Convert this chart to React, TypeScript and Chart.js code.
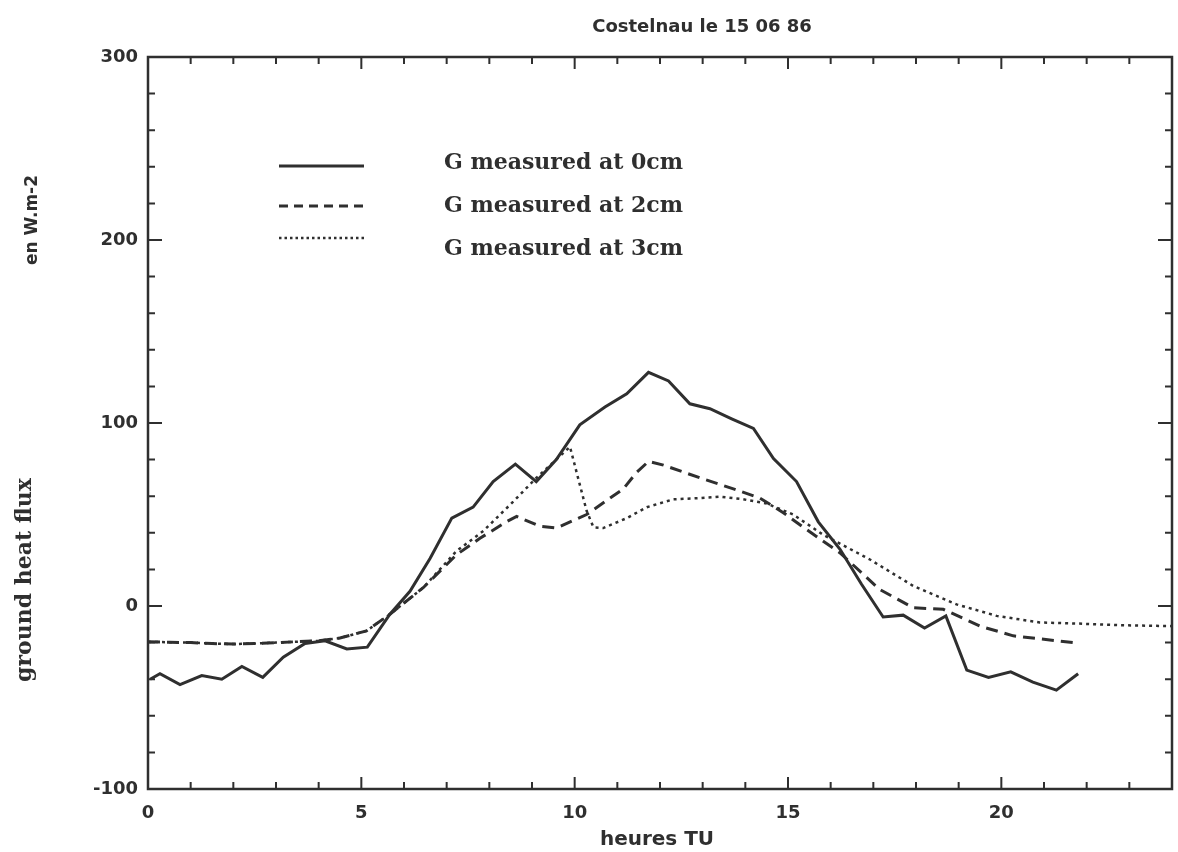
import React, { useEffect, useRef } from 'react';
import { Chart, registerables } from 'chart.js';

Chart.register(...registerables);

// ---- data (hours TU, W.m-2) ----
const hours0 = [0.05, 0.28, 0.75, 1.26, 1.73, 2.2, 2.69, 3.17, 3.68, 4.15, 4.66, 5.14, 5.67, 6.14, 6.61, 7.12, 7.62, 8.09, 8.61, 9.1, 9.57, 10.12, 10.71, 11.22, 11.73, 12.2, 12.7, 13.17, 13.68, 14.19, 14.66, 15.2, 15.71, 16.22, 16.72, 17.23, 17.7, 18.2, 18.7, 19.19, 19.7, 20.22, 20.74, 21.29, 21.8];
const flux0 = [-40, -37, -43, -38, -40, -33, -39, -28, -20.5, -19, -23.5, -22.5, -4.5, 8, 26, 48, 54, 68, 77.5, 68, 80, 99, 108.7, 116, 127.7, 123, 110.5, 107.8, 102.3, 97, 80.6, 68, 46, 31, 12, -6, -5, -12, -5.4, -35, -39, -36, -41.6, -46, -37];

const hours2 = [0, 0.5, 1.0, 1.5, 2.0, 2.5, 3.0, 3.5, 4.0, 4.5, 5.12, 5.67, 6.45, 7.23, 7.78, 8.4, 8.64, 9.19, 9.57, 10.28, 11.14, 11.45, 11.73, 12.08, 12.94, 13.72, 14.34, 14.89, 15.36, 16.22, 17.15, 17.94, 18.64, 19.5, 20.28, 21.69];
const flux2 = [-19.6, -19.8, -20, -20.5, -20.8, -20.5, -20, -19.5, -19, -17.5, -13.6, -4.5, 10, 28, 37, 46, 49, 43.5, 42.6, 50, 64, 73, 79, 77, 70, 64, 59, 51, 43, 29, 9, -1, -1.8, -11, -16.3, -20];

const hours3 = [0, 0.5, 1.0, 1.5, 2.0, 2.5, 3.0, 3.5, 4.0, 4.5, 5.12, 5.67, 6.45, 7.23, 7.86, 8.56, 9.1, 9.89, 10.28, 10.44, 10.67, 11.22, 11.69, 12.31, 12.94, 13.4, 13.95, 14.5, 15.12, 15.82, 16.92, 17.94, 18.95, 19.89, 20.9, 21.8, 22.8, 24.0];
const flux3 = [-19.6, -19.8, -20, -20.5, -20.8, -20.5, -20, -19.5, -19, -17.5, -13.6, -4.5, 10, 30, 41, 57, 70, 87, 52, 43, 42.6, 48, 54, 58.3, 59, 59.8, 58.3, 56, 50, 39, 25.4, 10.9, 0.9, -5.4, -9, -9.6, -10.5, -11];

const seriesLabels = ['G measured at 0cm', 'G measured at 2cm', 'G measured at 3cm'];
const xTickLabels = [0, 5, 10, 15, 20];
const titleText = 'Costelnau le 15 06 86';
const xTitle = 'heures TU';
const yTitleUnit = 'en W.m-2';
const yTitleMain = 'ground heat flux';

const INK = '#2f2f2f';

const toPoints = (xs: number[], ys: number[]) => xs.map((x, i) => ({ x, y: ys[i] }));

const decorPlugin = {
  id: 'decor',
  afterDatasetsDraw(chart: any) {
    const { ctx, chartArea: a, scales } = chart;
    const xs = scales.x;
    const ys = scales.y;
    ctx.save();
    ctx.strokeStyle = INK;
    ctx.fillStyle = INK;
    // frame
    ctx.lineWidth = 2.5;
    ctx.setLineDash([]);
    ctx.strokeRect(a.left, a.top, a.right - a.left, a.bottom - a.top);
    // inward ticks
    ctx.lineWidth = 2;
    for (let h = 0; h <= 24; h++) {
      const px = xs.getPixelForValue(h);
      const len = h % 5 === 0 ? 12 : 7;
      ctx.beginPath();
      ctx.moveTo(px, a.bottom);
      ctx.lineTo(px, a.bottom - len);
      ctx.moveTo(px, a.top);
      ctx.lineTo(px, a.top + len);
      ctx.stroke();
    }
    for (let v = -100; v <= 300; v += 20) {
      const py = ys.getPixelForValue(v);
      const len = v % 100 === 0 ? 14 : 7;
      ctx.beginPath();
      ctx.moveTo(a.left, py);
      ctx.lineTo(a.left + len, py);
      ctx.moveTo(a.right, py);
      ctx.lineTo(a.right - len, py);
      ctx.stroke();
    }
    // legend
    const lineYs = [166, 206, 238];
    const textYs = [163, 206, 249];
    const legendDash = [[], [9, 6], [2.5, 3]];
    chart.data.datasets.forEach((ds: any, i: number) => {
      ctx.save();
      ctx.lineWidth = ds.borderWidth;
      ctx.setLineDash(legendDash[i]);
      ctx.beginPath();
      ctx.moveTo(279, lineYs[i]);
      ctx.lineTo(364, lineYs[i]);
      ctx.stroke();
      ctx.restore();
      ctx.font = 'bold 22px "DejaVu Serif"';
      ctx.textAlign = 'left';
      ctx.textBaseline = 'middle';
      ctx.fillText(ds.label, 444, textYs[i]);
    });
    // title
    ctx.font = 'bold 18px "DejaVu Sans"';
    ctx.textAlign = 'center';
    ctx.textBaseline = 'middle';
    ctx.fillText(titleText, 702, 27);
    // x title
    ctx.font = 'bold 20px "DejaVu Sans"';
    ctx.fillText(xTitle, 657, 840);
    // y titles
    ctx.save();
    ctx.translate(33, 220);
    ctx.rotate(-Math.PI / 2);
    ctx.font = 'bold 17px "DejaVu Sans"';
    ctx.fillText(yTitleUnit, 0, 0);
    ctx.restore();
    ctx.save();
    ctx.translate(25, 580);
    ctx.rotate(-Math.PI / 2);
    ctx.font = 'bold 22px "DejaVu Serif"';
    ctx.fillText(yTitleMain, 0, 0);
    ctx.restore();
    ctx.restore();
  },
};

export default function App() {
  const canvasRef = useRef<HTMLCanvasElement | null>(null);

  useEffect(() => {
    if (!canvasRef.current) return;
    const chart = new Chart(canvasRef.current, {
      type: 'line',
      data: {
        datasets: [
          {
            label: seriesLabels[0],
            data: toPoints(hours0, flux0),
            borderColor: INK,
            borderWidth: 3,
            borderDash: [],
            pointRadius: 0,
            tension: 0,
            fill: false,
          },
          {
            label: seriesLabels[1],
            data: toPoints(hours2, flux2),
            borderColor: INK,
            borderWidth: 3,
            borderDash: [12, 7],
            pointRadius: 0,
            tension: 0,
            fill: false,
          },
          {
            label: seriesLabels[2],
            data: toPoints(hours3, flux3),
            borderColor: INK,
            borderWidth: 2.5,
            borderDash: [3, 4],
            pointRadius: 0,
            tension: 0,
            fill: false,
          },
        ],
      },
      options: {
        animation: false,
        responsive: true,
        maintainAspectRatio: false,
        layout: { padding: { top: 57, right: 6, left: 0, bottom: 0 } },
        plugins: {
          legend: { display: false },
          title: { display: false },
          tooltip: { enabled: false },
        },
        scales: {
          x: {
            type: 'linear',
            min: 0,
            max: 24,
            grid: { display: false, drawTicks: false },
            border: { display: false },
            ticks: {
              stepSize: 5,
              padding: 14,
              color: INK,
              font: { family: 'DejaVu Sans', size: 18, weight: 'bold' },
            },
            afterBuildTicks: (scale: any) => {
              scale.ticks = xTickLabels.map((v) => ({ value: v }));
            },
            afterFit: (scale: any) => {
              scale.height = 63;
            },
          },
          y: {
            type: 'linear',
            min: -100,
            max: 300,
            grid: { display: false, drawTicks: false },
            border: { display: false },
            ticks: {
              stepSize: 100,
              padding: 10,
              color: INK,
              font: { family: 'DejaVu Sans', size: 18, weight: 'bold' },
            },
            afterFit: (scale: any) => {
              scale.width = 148;
            },
          },
        },
      },
      plugins: [decorPlugin],
    });
    return () => chart.destroy();
  }, []);

  return (
    <div style={{ position: 'fixed', left: 0, top: 0, width: 1178, height: 852, background: '#fff' }}>
      <canvas ref={canvasRef} />
    </div>
  );
}
